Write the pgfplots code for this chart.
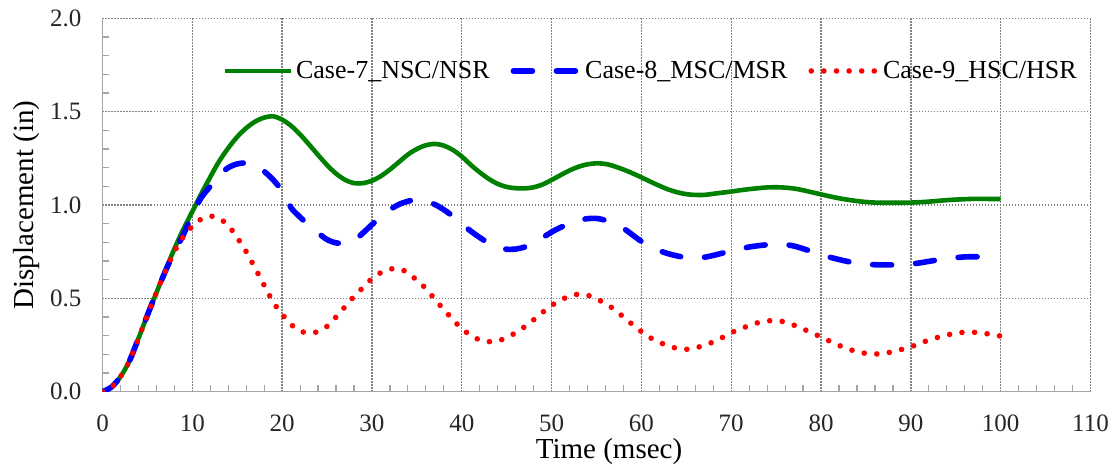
\documentclass[border=0pt]{standalone}
\usepackage{fontspec}
\setmainfont{Liberation Serif}
\usepackage{pgfplots}
\usepackage{pgfplotstable}
\pgfplotsset{compat=1.18}

\definecolor{c7}{RGB}{0,128,0}
\definecolor{c8}{RGB}{0,0,255}
\definecolor{c9}{RGB}{255,0,0}
\definecolor{gridgray}{RGB}{130,130,130}
\definecolor{axgray}{RGB}{165,165,165}

% displacement histories (in) against time (msec)
\pgfplotstableread{
t   d7     d8     d9
0   0      0      0
1   0.025  0.025  0.025
2   0.08   0.08   0.08
3   0.165  0.165  0.165
4   0.285  0.285  0.285
5   0.41   0.41   0.41
6   0.53   0.53   0.53
7   0.65   0.645  0.645
8   0.765  0.75   0.75
9   0.87   0.84   0.83
10  0.965  0.95   0.885
11  1.06   1.04   0.925
12  1.15   1.10   0.94
13  1.235  1.16   0.928
14  1.305  1.20   0.89
15  1.365  1.22   0.825
16  1.412  1.225  0.75
17  1.447  1.215  0.661
18  1.468  1.18   0.57
19  1.475  1.135  0.48
20  1.457  1.075  0.415
21  1.424  0.985  0.36
22  1.378  0.935  0.325
23  1.324  0.89   0.315
24  1.268  0.85   0.322
25  1.214  0.815  0.35
26  1.168  0.797  0.40
27  1.135  0.795  0.455
28  1.117  0.81   0.51
29  1.117  0.85   0.558
30  1.13   0.895  0.605
31  1.155  0.935  0.638
32  1.19   0.975  0.657
33  1.23   1.003  0.658
34  1.27   1.02   0.638
35  1.30   1.028  0.596
36  1.32   1.02   0.553
37  1.327  1.003  0.495
38  1.318  0.975  0.44
39  1.295  0.94   0.387
40  1.26   0.9    0.337
41  1.215  0.86   0.303
42  1.175  0.826  0.277
43  1.14   0.795  0.268
44  1.113  0.773  0.272
45  1.097  0.763  0.29
46  1.09   0.764  0.316
47  1.089  0.775  0.348
48  1.095  0.797  0.385
49  1.11   0.825  0.425
50  1.134  0.855  0.462
51  1.16   0.88   0.49
52  1.185  0.9    0.512
53  1.205  0.917  0.522
54  1.218  0.927  0.517
55  1.223  0.928  0.497
56  1.22   0.918  0.472
57  1.207  0.898  0.44
58  1.19   0.875  0.40
59  1.17   0.84   0.36
60  1.148  0.805  0.322
61  1.125  0.777  0.289
62  1.103  0.755  0.265
63  1.083  0.739  0.245
64  1.068  0.727  0.232
65  1.058  0.718  0.227
66  1.054  0.716  0.235
67  1.054  0.72   0.248
68  1.06   0.73   0.267
69  1.066  0.742  0.29
70  1.072  0.755  0.316
71  1.079  0.765  0.336
72  1.085  0.775  0.354
73  1.09   0.782  0.37
74  1.094  0.787  0.379
75  1.095  0.79   0.381
76  1.093  0.788  0.373
77  1.088  0.78   0.356
78  1.079  0.766  0.336
79  1.068  0.75   0.315
80  1.057  0.735  0.293
81  1.046  0.72   0.27
82  1.036  0.708  0.248
83  1.028  0.697  0.229
84  1.021  0.689  0.215
85  1.016  0.683  0.205
86  1.013  0.68   0.202
87  1.012  0.679  0.205
88  1.012  0.679  0.215
89  1.012  0.68   0.227
90  1.013  0.684  0.24
91  1.015  0.69   0.26
92  1.018  0.698  0.276
93  1.022  0.706  0.291
94  1.026  0.713  0.303
95  1.029  0.718  0.314
96  1.031  0.722  0.318
97  1.033  0.723  0.318
98  1.033  0.722  0.315
99  1.032  0.72   0.305
100 1.032  0.72   0.298
}\disp

\begin{document}
\begin{tikzpicture}
\begin{axis}[
  name=ax,
  scale only axis, width=494pt, height=186.7pt,
  xmin=0, xmax=110, ymin=0, ymax=2,
  xtick={0,10,...,110}, ytick={0,0.5,1,1.5,2},
  minor x tick num=4, minor y tick num=4,
  tick align=inside,
  major tick length=0pt, minor tick length=3.2pt,
  axis x line*=bottom, axis y line*=left,
  axis line style={axgray, line width=0.8pt, -},
  every tick/.style={axgray, line width=0.6pt},
  grid=major,
  major grid style={gridgray, line width=0.65pt, dash pattern=on 0.65pt off 0.85pt},
  /pgf/number format/assume math mode=true,
  yticklabel={\pgfmathprintnumber[fixed, fixed zerofill, precision=1]{\tick}},
  ticklabel style={font=\fontsize{12.5}{14}\selectfont, inner sep=0pt, text=black!85},
  xticklabel style={anchor=north, yshift=-11.6pt},
  yticklabel style={anchor=east, xshift=-10.4pt},
  xlabel={Time (msec)},
  ylabel={Displacement (in)},
  every axis x label/.style={at={(axis description cs:0.5127,-0.1784)}, anchor=base, font=\fontsize{14.5}{16}\selectfont, inner sep=0pt},
  every axis y label/.style={at={(axis description cs:-0.0700,0.5)}, rotate=90, anchor=base, font=\fontsize{14.5}{16}\selectfont, inner sep=0pt},
  no markers,
  legend columns=3,
  legend cell align=left,
  legend image code/.code={\draw[#1] (0pt,0pt) -- (33pt,0pt);},
  legend style={draw=none, fill=none, at={(axis description cs:0.121,0.8589)}, anchor=west,
    font=\fontsize{13}{15}\selectfont, inner sep=0pt, nodes={inner sep=1.5pt},
    /tikz/every even column/.append style={column sep=9pt}},
]
\addplot[c7, line width=2.3pt, smooth] table[x=t, y=d7] {\disp};
\addlegendentry{Case-7\_NSC/NSR}
\addplot[c8, line width=2.8pt, smooth, line cap=round, dash pattern=on 9.5pt off 12pt] table[x=t, y=d8] {\disp};
\addlegendentry{Case-8\_MSC/MSR}
\addplot[c9, line width=2.8pt, smooth, line cap=round, dash pattern=on 0pt off 6.3pt] table[x=t, y=d9] {\disp};
\addlegendentry{Case-9\_HSC/HSR}
\end{axis}
\pgfresetboundingbox
\path[use as bounding box] ([shift={(-51.25pt,-39.15pt)}]ax.south west) rectangle ([shift={(507.25pt,195.85pt)}]ax.south west);
\end{tikzpicture}
\end{document}
